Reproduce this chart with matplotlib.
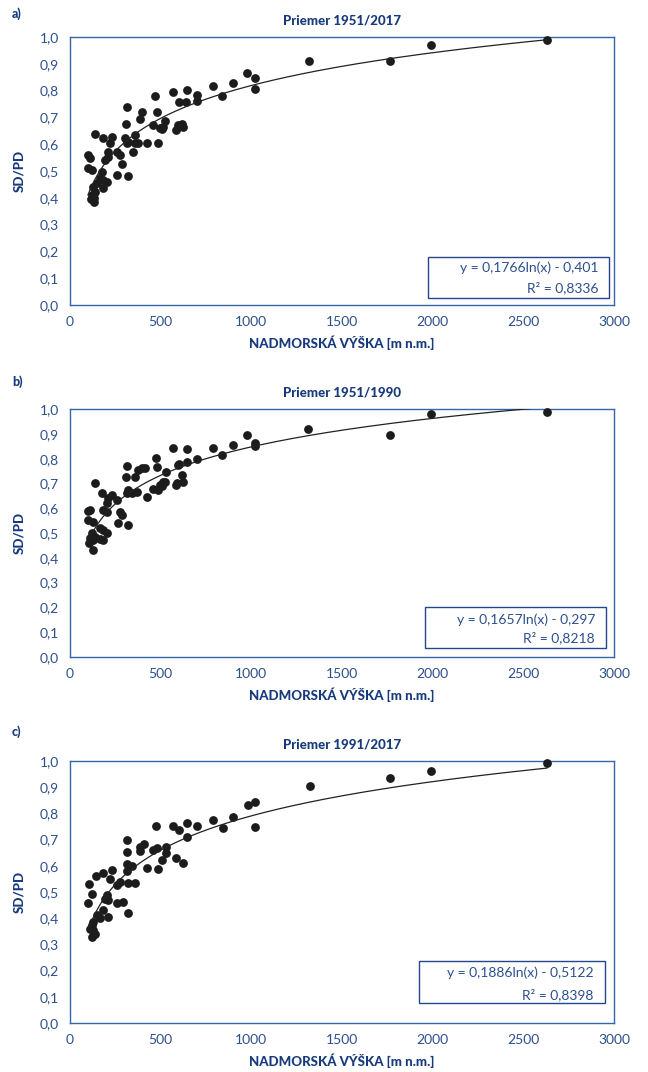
import numpy as np
import matplotlib.pyplot as plt
from matplotlib.patches import Rectangle

plt.rcParams['font.family'] = ['Lato', 'DejaVu Sans']

# data: elevation [m n.m.] and SD/PD ratio
x_a = [2630, 1990, 1765, 1320, 976, 1020, 1020, 899, 838, 788, 700, 700, 645, 640,
       601, 568, 469, 480, 458, 524, 513, 507, 585, 618, 623, 485,
       314, 397, 386, 309, 496, 596, 138, 182, 232, 303, 320, 358, 314, 358, 375,
       425, 220, 210, 259, 276, 347, 99, 110, 193, 210, 287, 99, 121, 176, 259,
       320, 165, 182, 204, 149, 182, 127, 138, 130, 135, 120, 115]
y_a = [0.99, 0.97, 0.91, 0.91, 0.866, 0.847, 0.806, 0.828, 0.78, 0.817, 0.784, 0.761, 0.802, 0.757,
       0.757, 0.795, 0.78, 0.72, 0.672, 0.687, 0.664, 0.657, 0.653, 0.675, 0.664, 0.604,
       0.739, 0.72, 0.694, 0.675, 0.66, 0.672, 0.638, 0.623, 0.627, 0.623, 0.608, 0.634, 0.604, 0.604, 0.604,
       0.604, 0.604, 0.571, 0.571, 0.56, 0.571, 0.56, 0.549, 0.541, 0.552, 0.526, 0.511, 0.504, 0.496, 0.485,
       0.481, 0.474, 0.466, 0.459, 0.455, 0.437, 0.44, 0.42, 0.40, 0.385, 0.41, 0.395]

x_b = [2630, 1990, 1765, 1313, 976, 1020, 1020, 899, 838, 788, 700, 645, 645, 601,
       568, 474, 480, 530, 458, 524, 507, 485, 585, 618, 623,
       314, 397, 414, 375, 309, 358, 596, 513, 496, 590, 425, 320, 314, 342, 370,
       138, 176, 232, 210, 259, 204, 110, 182, 204, 276, 287, 99, 127, 265, 320,
       165, 182, 204, 121, 138, 127, 110, 165, 182, 127, 99, 105]
y_b = [0.99, 0.98, 0.895, 0.919, 0.895, 0.862, 0.852, 0.855, 0.815, 0.843, 0.798, 0.839, 0.786, 0.778,
       0.843, 0.802, 0.766, 0.746, 0.677, 0.706, 0.69, 0.673, 0.694, 0.734, 0.706,
       0.77, 0.762, 0.762, 0.754, 0.726, 0.726, 0.774, 0.706, 0.694, 0.70, 0.645, 0.673, 0.661, 0.661, 0.665,
       0.70, 0.661, 0.653, 0.641, 0.633, 0.621, 0.593, 0.593, 0.585, 0.585, 0.573, 0.552, 0.544, 0.54, 0.532,
       0.52, 0.512, 0.50, 0.50, 0.484, 0.472, 0.48, 0.476, 0.472, 0.431, 0.59, 0.46]

x_c = [2630, 1990, 1765, 1324, 982, 1020, 1020, 899, 843, 788, 700, 645, 645, 568,
       601, 474, 530, 530, 480, 458, 507, 485, 585, 623, 425,
       408, 386, 386, 314, 314, 314, 342, 314, 358, 320, 276, 259, 220, 232, 182,
       143, 105, 121, 99, 204, 210, 193, 259, 292, 320, 182, 210, 149,
       127, 121, 127, 121, 138, 110, 165]
y_c = [0.992, 0.962, 0.935, 0.905, 0.832, 0.844, 0.748, 0.786, 0.744, 0.775, 0.752, 0.763, 0.71, 0.752,
       0.737, 0.752, 0.672, 0.649, 0.668, 0.66, 0.622, 0.588, 0.63, 0.611, 0.592,
       0.684, 0.672, 0.657, 0.699, 0.653, 0.607, 0.599, 0.58, 0.534, 0.534, 0.538, 0.527, 0.55, 0.584, 0.573,
       0.561, 0.53, 0.492, 0.458, 0.488, 0.47, 0.473, 0.458, 0.462, 0.42, 0.431, 0.405, 0.412,
       0.386, 0.374, 0.355, 0.328, 0.34, 0.36, 0.40]

titles = ['Priemer 1951/2017', 'Priemer 1951/1990', 'Priemer 1991/2017']
letters = ['a)', 'b)', 'c)']
coefs = [(0.1766, 0.401, '0,1766', '0,401', '0,8336'),
         (0.1657, 0.297, '0,1657', '0,297', '0,8218'),
         (0.1886, 0.5122, '0,1886', '0,5122', '0,8398')]

navy = '#173a7c'
tickc = '#2d4f8e'
spinec = '#3566aa'

# axes boxes in figure fraction [left, bottom, width, height]
boxes = [[0.108, 0.7155, 0.8395, 0.25],
         [0.108, 0.3871, 0.8395, 0.2313],
         [0.108, 0.0457, 0.8395, 0.2444]]
# equation box (left, bottom, width, height) and text rows, axes fraction
eq_boxes = [((0.658, 0.026, 0.333, 0.153), 0.138, 0.063),
            ((0.653, 0.036, 0.332, 0.166), 0.149, 0.077),
            ((0.642, 0.076, 0.341, 0.161), 0.191, 0.107)]
letter_y = [1 - 14 / 1072, 1 - 382 / 1072, 1 - 732 / 1072]

fig = plt.figure(figsize=(6.48, 10.72), dpi=100)

for i, (xs, ys) in enumerate([(x_a, y_a), (x_b, y_b), (x_c, y_c)]):
    ax = fig.add_axes(boxes[i])
    ax.scatter(xs, ys, s=40, color='#1c1c1c', zorder=3, linewidths=0, clip_on=False)
    a, b, sa, sb, r2 = coefs[i]
    xf = np.linspace(min(xs), max(xs), 300)
    ax.plot(xf, a * np.log(xf) - b, color='#222222', lw=0.9, zorder=4)

    ax.set_xlim(0, 3000)
    ax.set_ylim(0, 1.0)
    ax.set_xticks(np.arange(0, 3001, 500))
    ax.set_yticks(np.arange(0, 1.01, 0.1))
    ax.set_yticklabels([f'{v:.1f}'.replace('.', ',') for v in np.arange(0, 1.01, 0.1)])
    ax.tick_params(length=0, labelsize=10, colors=tickc, pad=8)
    for sp in ax.spines.values():
        sp.set_color(spinec)
        sp.set_linewidth(1.0)

    ax.set_title(titles[i], fontsize=9.5, fontweight='black', color=navy, pad=9)
    ax.set_xlabel('NADMORSKÁ VÝŠKA [m n.m.]', fontsize=9.5, fontweight='black',
                  color=navy, labelpad=5)
    ax.set_ylabel('SD/PD', fontsize=9.5, fontweight='black', color=navy, labelpad=10)

    (bx, by, bw, bh), t1, t2 = eq_boxes[i]
    ax.add_patch(Rectangle((bx, by), bw, bh, transform=ax.transAxes, fill=False,
                           edgecolor='#24478c', lw=1.0, zorder=5))
    tx = bx + bw - 0.02
    ax.text(tx, t1, f'y = {sa}ln(x) - {sb}', transform=ax.transAxes, ha='right',
            va='center', fontsize=10, color=tickc, zorder=6)
    ax.text(tx, t2, f'R² = {r2}', transform=ax.transAxes, ha='right',
            va='center', fontsize=10, color=tickc, zorder=6)

    fig.text(12 / 648, letter_y[i], letters[i], fontsize=9, fontweight='black',
             color=navy, ha='left', va='center')

fig.savefig('out.png', dpi=100)
